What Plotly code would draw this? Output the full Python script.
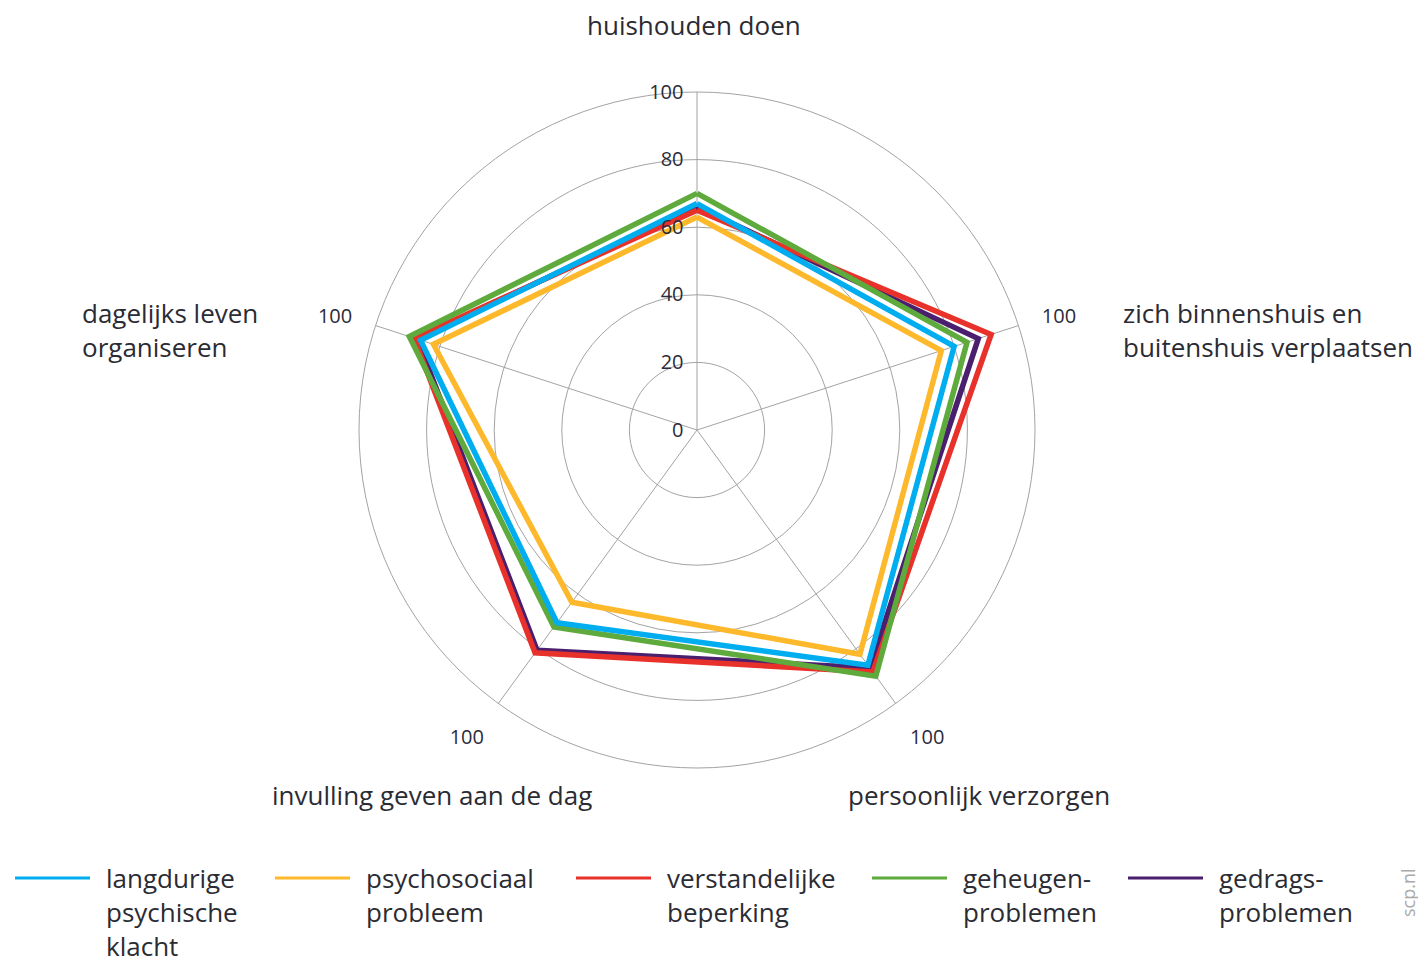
import plotly.graph_objects as go

# page body has an 8px margin; figure is sized so it ends at the window edge
OFF = 8
W, H = 1426 - OFF, 965 - OFF

categories = ["huishouden doen", "zich binnenshuis en buitenshuis verplaatsen",
              "persoonlijk verzorgen", "invulling geven aan de dag",
              "dagelijks leven organiseren"]
series_names = ["langdurige psychische klacht", "psychosociaal probleem",
                "verstandelijke beperking", "geheugenproblemen", "gedragsproblemen"]
legend_labels = ["langdurige<br>psychische<br>klacht", "psychosociaal<br>probleem",
                 "verstandelijke<br>beperking", "geheugen-<br>problemen", "gedrags-<br>problemen"]
langdurige = [67, 80, 86, 70.5, 86]
psychosociaal = [63, 76, 82, 63, 82]
verstandelijk = [65, 91.5, 88.5, 81.5, 88]
geheugen = [70, 84, 90, 72, 89.5]
gedrag = [66, 87.5, 87, 80.5, 87]
values = [langdurige, psychosociaal, verstandelijk, geheugen, gedrag]
colors = ["#00AEEF", "#FDB92B", "#E8312A", "#5EAA3C", "#4A1F6E"]
radial_ticks = [0, 20, 40, 60, 80, 100]
angular_ticktext = ["", "100", "100", "100", "100"]


def px(x):
    return (x - OFF) / W


def py(y):
    return 1 - (y - OFF) / H


fig = go.Figure()
draw_order = [4, 2, 3, 0, 1]
for i in draw_order:
    v = values[i]
    fig.add_trace(go.Scatterpolar(
        r=v + [v[0]], theta=categories + [categories[0]], mode="lines",
        line=dict(color=colors[i], width=5.5), name=series_names[i], showlegend=False))

cx, cy, R = 697, 430, 338
grid = "#A3A3A3"
fig.update_layout(
    width=W, height=H, margin=dict(l=0, r=0, t=0, b=0),
    paper_bgcolor="white", plot_bgcolor="white",
    font=dict(family="Open Sans", color="#2b2b33"),
    polar=dict(
        domain=dict(x=[px(cx - R), px(cx + R)], y=[py(cy + R), py(cy - R)]),
        bgcolor="white",
        radialaxis=dict(range=[0, 100], tickvals=radial_ticks, angle=90, tickangle=90,
                        side="counterclockwise", showline=False,
                        ticks="outside", ticklen=6, tickcolor="rgba(0,0,0,0)",
                        gridcolor=grid, gridwidth=1,
                        tickfont=dict(size=20, color="#2b2b3a")),
        angularaxis=dict(type="category", rotation=90, direction="clockwise",
                         tickvals=categories, ticktext=angular_ticktext,
                         ticks="outside", ticklen=20, tickcolor="rgba(0,0,0,0)",
                         showline=True, linecolor=grid, linewidth=1,
                         gridcolor=grid, gridwidth=1,
                         tickfont=dict(size=20, color="#2b2b3a")),
    ),
)

ann = []
lab_font = dict(family="Open Sans", size=26, color="#2b2b33")
ann.append(dict(x=px(694), y=py(25), text="huishouden doen", xanchor="center", yanchor="middle"))
ann.append(dict(x=px(1121), y=py(330), text="zich binnenshuis en<br>buitenshuis verplaatsen",
                xanchor="left", yanchor="middle", align="left"))
ann.append(dict(x=px(80), y=py(330), text="dagelijks leven<br>organiseren",
                xanchor="left", yanchor="middle", align="left"))
ann.append(dict(x=px(270), y=py(795), text="invulling geven aan de dag", xanchor="left", yanchor="middle"))
ann.append(dict(x=px(846), y=py(795), text="persoonlijk verzorgen", xanchor="left", yanchor="middle"))

leg_line_x = [15, 275, 576, 872, 1128]
for i, x0 in enumerate(leg_line_x):
    fig.add_shape(type="line", xref="paper", yref="paper", x0=px(x0), x1=px(x0 + 75),
                  y0=py(878), y1=py(878), line=dict(color=colors[i], width=3))
    ann.append(dict(x=px(x0 + 89), y=py(858), text=legend_labels[i], xanchor="left",
                    yanchor="top", align="left"))

for a in ann:
    a.update(xref="paper", yref="paper", showarrow=False, font=lab_font)

ann.append(dict(x=px(1408), y=py(893), xref="paper", yref="paper", text="scp.nl", showarrow=False,
                textangle=-90, font=dict(family="Open Sans", size=18, color="#AAAAAA"),
                xanchor="center", yanchor="middle"))
fig.update_layout(annotations=ann)

fig.write_html("out.html")
